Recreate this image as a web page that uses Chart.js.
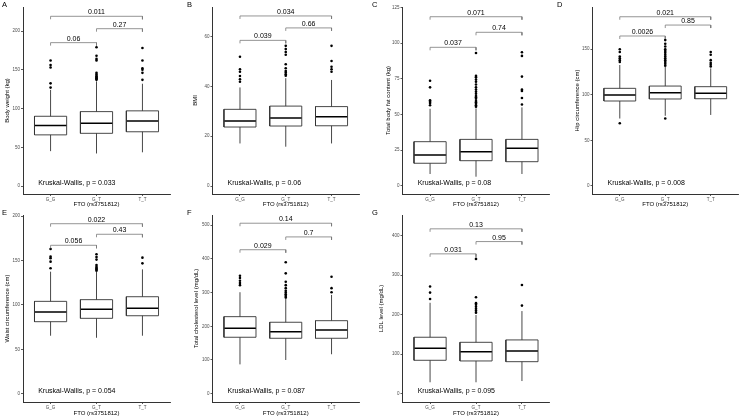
<!DOCTYPE html>
<html>
<head>
<meta charset="utf-8">
<script src="https://cdn.jsdelivr.net/npm/chart.js@4.4.1/dist/chart.umd.min.js"></script>
<style>
  body { margin: 0; background: #fff; }
  #wrap { position: relative; width: 742px; height: 418px; overflow: hidden; }
  canvas { position: absolute; }
</style>
</head>
<body>
<div id="wrap"></div>
<script>
// genotype groups and the three pairwise comparisons (GG-GT, GT-TT, GG-TT)
const genotypes = ['G_G', 'G_T', 'T_T'];
const comparisons = [[1, 2], [2, 3], [1, 3]];
const xTitle = 'FTO (rs3751812)';

// box stats per genotype: [lower whisker, q1, median, q3, upper whisker]
// A - body weight
const weightBox = [[45, 66, 78, 90, 124], [42, 68, 81, 96, 135], [43.5, 70, 84, 97, 132]];
const weightOut = [[127, 132.5, 153, 156, 162], [137, 138, 139, 140, 141, 142, 144, 146, 162, 164, 168, 179], [137, 146, 150, 152, 162, 178]];
const weightP = ['0.06', '0.27', '0.011'];
const weightBracket = [185, 203, 219];
const weightKW = '0.033';
const weightTicks = [0, 50, 100, 150, 200];

// B - BMI
const bmiBox = [[17.1, 23.7, 26.1, 30.8, 39.6], [15.8, 24.1, 27.3, 32.1, 43.3], [17.1, 24.2, 27.8, 31.9, 42.6]];
const bmiOut = [[41.9, 42.9, 44.2, 45.9, 46.9, 51.9], [44.3, 44.9, 45.6, 46.2, 47.3, 48.9, 52.7, 53.8, 55, 56.3], [45.9, 46.9, 47.9, 50.2, 56.3]];
const bmiP = ['0.039', '0.66', '0.034'];
const bmiBracket = [58.5, 63.5, 68.3];
const bmiKW = '0.06';
const bmiTicks = [0, 20, 40, 60];

// C - total body fat
const fatBox = [[8.4, 15.9, 21.7, 31, 54], [6.5, 17.7, 24, 32.6, 54.3], [8.4, 17, 26.4, 32.6, 55]];
const fatOut = [[56.5, 58, 59, 60, 69, 73.6], [55.5, 56.5, 57.5, 58.5, 59.5, 61, 62, 63, 64.5, 66, 67.5, 69, 71, 73, 74.5, 76, 77, 93], [57, 61.5, 66.5, 67.5, 76.5, 91, 93.5]];
const fatP = ['0.037', '0.74', '0.071'];
const fatBracket = [97, 107.5, 118.4];
const fatKW = '0.08';
const fatTicks = [0, 25, 50, 75, 100, 125];

// D - hip circumference
const hipBox = [[74, 93.2, 99.8, 107.1, 132.7], [77, 95.4, 102.3, 109.6, 130.8], [77.9, 95.7, 101.6, 108.9, 129]];
const hipOut = [[68.8, 136, 138, 140, 142, 147, 150], [74, 132, 134, 136, 138, 140, 142, 144, 146, 148, 150, 153, 156, 160], [131, 133, 135, 138, 144, 147]];
const hipP = ['0.0026', '0.85', '0.021'];
const hipBracket = [164.5, 176.5, 185.6];
const hipKW = '0.008';
const hipTicks = [0, 50, 100, 150];

// E - waist circumference
const waistBox = [[65.3, 81.1, 92, 104, 137.4], [63, 84.9, 95, 105.9, 137.4], [65.3, 87.8, 96.2, 109.2, 140]];
const waistOut = [[141.2, 148.7, 152.5, 154.3, 163], [138.5, 139.5, 140.5, 141.5, 143, 145, 151, 154, 157], [146.8, 153.2]];
const waistP = ['0.056', '0.43', '0.022'];
const waistBracket = [167.1, 179.5, 191.4];
const waistKW = '0.054';
const waistTicks = [0, 50, 100, 150, 200];

// F - total cholesterol
const cholBox = [[87, 167.4, 194, 228.5, 301], [100, 164.4, 184, 211.9, 283], [117, 164.4, 189, 216.6, 293]];
const cholOut = [[322, 328, 335, 343, 350], [285, 290, 295, 300, 305, 313, 322, 332, 357, 390], [301, 313, 347]];
const cholP = ['0.029', '0.7', '0.14'];
const cholBracket = [427, 465, 505.6];
const cholKW = '0.087';
const cholTicks = [0, 100, 200, 300, 400, 500];

// G - LDL
const ldlBox = [[28.9, 84.5, 114.9, 142.8, 230], [28.9, 82.8, 106.3, 130, 199], [32, 81, 108, 136, 209]];
const ldlOut = [[239.7, 255.7, 271], [205, 210, 215, 220, 225, 229, 244, 341], [222.8, 275]];
const ldlP = ['0.031', '0.95', '0.13'];
const ldlBracket = [353.7, 384.8, 417];
const ldlKW = '0.095';
const ldlTicks = [0, 100, 200, 300, 400];

const FONT = '"Liberation Sans", Arial, sans-serif';
Chart.defaults.font.family = FONT;

// panel layout (canvas placement + axis geometry)
const panels = [
  { id: 'A', title: 'Body weight (kg)', box: weightBox, out: weightOut, p: weightP, br: weightBracket, kw: weightKW, ticks: weightTicks, min: -10.3, max: 231, left: 0, top: 0, w: 185, h: 208, areaL: 23, areaR: 170, titleX: 7 },
  { id: 'B', title: 'BMI', box: bmiBox, out: bmiOut, p: bmiP, br: bmiBracket, kw: bmiKW, ticks: bmiTicks, min: -3.2, max: 71.9, left: 185, top: 0, w: 185, h: 208, areaL: 27.5, areaR: 174, titleX: 10 },
  { id: 'C', title: 'Total body fat content (kg)', box: fatBox, out: fatOut, p: fatP, br: fatBracket, kw: fatKW, ticks: fatTicks, min: -5.6, max: 125.2, left: 370, top: 0, w: 185, h: 208, areaL: 32.5, areaR: 179.5, titleX: 18 },
  { id: 'D', title: 'Hip circumference (cm)', box: hipBox, out: hipOut, p: hipP, br: hipBracket, kw: hipKW, ticks: hipTicks, min: -8.8, max: 196.3, left: 555, top: 0, w: 187, h: 208, areaL: 37.5, areaR: 184, titleX: 22.5 },
  { id: 'E', title: 'Waist circumference (cm)', box: waistBox, out: waistOut, p: waistP, br: waistBracket, kw: waistKW, ticks: waistTicks, min: -9.3, max: 201.2, left: 0, top: 208, w: 185, h: 209, areaL: 23, areaR: 170, titleX: 7.3 },
  { id: 'F', title: 'Total cholesterol level (mg/dL)', box: cholBox, out: cholOut, p: cholP, br: cholBracket, kw: cholKW, ticks: cholTicks, min: -24.6, max: 530, left: 185, top: 208, w: 185, h: 209, areaL: 27.5, areaR: 174, titleX: 11.7 },
  { id: 'G', title: 'LDL level (mg/dL)', box: ldlBox, out: ldlOut, p: ldlP, br: ldlBracket, kw: ldlKW, ticks: ldlTicks, min: -21, max: 452, left: 370, top: 208, w: 185, h: 209, areaL: 32.5, areaR: 179.5, titleX: 11.7 }
];

const HW = 0.35; // half box width in x units

function boxPts(stats) {
  const pts = [];
  stats.forEach((s, i) => {
    const c = i + 1;
    pts.push({ x: c - HW, y: s[1] }, { x: c + HW, y: s[1] }, { x: c + HW, y: s[3] }, { x: c - HW, y: s[3] }, { x: c - HW, y: s[1] }, { x: c, y: null });
  });
  return pts;
}
function medianPts(stats) {
  const pts = [];
  stats.forEach((s, i) => pts.push({ x: i + 1 - HW, y: s[2] }, { x: i + 1 + HW, y: s[2] }, { x: i + 1, y: null }));
  return pts;
}
function whiskerPts(stats) {
  const pts = [];
  stats.forEach((s, i) => {
    const c = i + 1;
    pts.push({ x: c, y: s[0] }, { x: c, y: s[1] }, { x: c, y: null }, { x: c, y: s[3] }, { x: c, y: s[4] }, { x: c, y: null });
  });
  return pts;
}
function bracketPts(br, tip) {
  const pts = [];
  comparisons.forEach((c, i) => {
    pts.push({ x: c[0], y: br[i] - tip }, { x: c[0], y: br[i] }, { x: c[1], y: br[i] }, { x: c[1], y: br[i] - tip }, { x: c[1], y: null });
  });
  return pts;
}
function outlierPts(out) {
  return out.flatMap((arr, i) => arr.map(v => ({ x: i + 1, y: v })));
}

const annot = {
  id: 'annot',
  afterDatasetsDraw(chart, args, o) {
    const p = o.panel;
    const { ctx, scales: { x, y } } = chart;
    ctx.save();
    ctx.fillStyle = '#000';
    ctx.font = '7px ' + FONT;
    ctx.textAlign = 'center';
    ctx.textBaseline = 'bottom';
    comparisons.forEach((c, i) => {
      ctx.fillText(p.p[i], x.getPixelForValue((c[0] + c[1]) / 2), y.getPixelForValue(p.br[i]) - 0.5);
    });
    ctx.textAlign = 'left';
    ctx.textBaseline = 'middle';
    ctx.fillText('Kruskal-Wallis, p = ' + p.kw, x.getPixelForValue(0.73), y.getPixelForValue(0) - 2.5);
    ctx.font = '7.5px ' + FONT;
    ctx.textBaseline = 'top';
    ctx.fillText(p.id, 2, 1);
    ctx.restore();
  }
};

const wrap = document.getElementById('wrap');
panels.forEach(p => {
  const cv = document.createElement('canvas');
  cv.width = p.w; cv.height = p.h;
  cv.style.left = p.left + 'px'; cv.style.top = p.top + 'px';
  wrap.appendChild(cv);
  const tip = 0.016 * (p.max - p.min);
  const line = (data, color, width) => ({ data, borderColor: color, borderWidth: width, pointRadius: 0, fill: false, tension: 0, spanGaps: false });
  new Chart(cv.getContext('2d'), {
    type: 'line',
    data: {
      datasets: [
        line(bracketPts(p.br, tip), '#7a7a7a', 0.8),
        line(whiskerPts(p.box), '#333333', 0.9),
        line(boxPts(p.box), '#333333', 0.9),
        line(medianPts(p.box), '#000000', 1.5),
        { data: outlierPts(p.out), showLine: false, pointRadius: 1.3, pointBackgroundColor: '#000', pointBorderWidth: 0, borderColor: '#000' }
      ]
    },
    options: {
      responsive: false,
      animation: false,
      events: [],
      layout: { padding: { top: 7, right: p.w - p.areaR, left: 0, bottom: 0 } },
      plugins: { legend: { display: false }, tooltip: { enabled: false }, annot: { panel: p } },
      scales: {
        x: {
          type: 'linear', min: 0.4, max: 3.6,
          afterBuildTicks: s => { s.ticks = genotypes.map((g, i) => ({ value: i + 1 })); },
          afterFit: s => { s.height = p.h - 7 - 187; },
          ticks: { callback: v => genotypes[v - 1], font: { size: 4.5 }, color: '#4d4d4d', padding: 1, maxRotation: 0, autoSkip: false },
          grid: { drawOnChartArea: false, tickLength: 2, color: '#333', lineWidth: 0.8 },
          border: { color: '#333', width: 1 },
          title: { display: true, text: xTitle, font: { size: 6 }, color: '#000', padding: 0 }
        },
        y: {
          min: p.min, max: p.max,
          afterBuildTicks: s => { s.ticks = p.ticks.map(v => ({ value: v })); },
          afterFit: s => { s.width = p.areaL; },
          ticks: { font: { size: 4.5 }, color: '#4d4d4d', padding: 1 },
          grid: { drawOnChartArea: false, tickLength: 2, color: '#333', lineWidth: 0.8 },
          border: { color: '#333', width: 1 },
          title: { display: true, text: p.title, font: { size: 6 }, color: '#000', padding: { top: p.titleX - 3.6, bottom: 0 } }
        }
      }
    },
    plugins: [annot]
  });
});
</script>
</body>
</html>
